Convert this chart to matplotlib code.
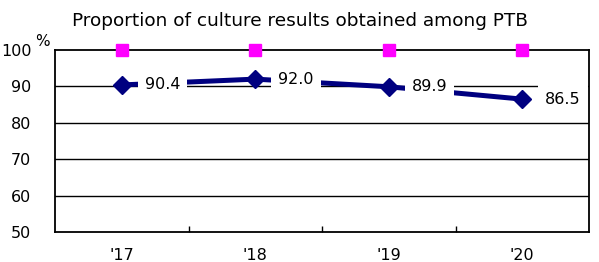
import matplotlib
matplotlib.use("Agg")
import matplotlib.pyplot as plt
import numpy as np

# data
years = ["'17", "'18", "'19", "'20"]
culture_rate = [90.4, 92.0, 89.9, 86.5]
reference = [100, 100, 100, 100]
y_ticks = [50, 60, 70, 80, 90, 100]

plt.rcParams['font.family'] = ['Verdana', 'DejaVu Sans']

fig = plt.figure(figsize=(5.99, 2.62), dpi=100)
ax = fig.add_axes([55 / 599, 30 / 262, 534 / 599, 182 / 262])

x = np.arange(len(years)) + 0.5

ax.set_xlim(0, len(years))
ax.set_ylim(50, 100)
ax.set_yticks(y_ticks)
ax.set_yticklabels([str(v) for v in y_ticks], fontsize=11.5)
ax.set_xticks(x)
ax.set_xticklabels(years, fontsize=11.5)
ax.set_xticks(np.arange(1, len(years)), minor=True)
ax.tick_params(axis='x', which='major', length=0, pad=11.5)
ax.tick_params(axis='x', which='minor', length=4, direction='in', width=1)
ax.tick_params(axis='y', length=0, pad=17)

for v in y_ticks[1:-1]:
    ax.axhline(v, color='black', lw=1, zorder=1)
for side in ['left', 'right', 'bottom', 'top']:
    ax.spines[side].set_color('black')
    ax.spines[side].set_linewidth(1.3)

ax.plot(x, culture_rate, color='#000080', lw=3.6, marker='D', markersize=9,
        zorder=3, clip_on=False)
ax.plot(x, reference, linestyle='none', marker='s', markersize=8,
        color='#ff00ff', zorder=4, clip_on=False)

for xi, v in zip(x, culture_rate):
    ax.annotate(f"{v:.1f}", (xi, v), xytext=(16.5, 0), textcoords='offset points',
                ha='left', va='center', fontsize=11.5, zorder=5,
                bbox=dict(facecolor='white', edgecolor='none', pad=5))

fig.text(300 / 599, 1 - 21 / 262, "Proportion of culture results obtained among PTB",
         ha='center', va='center', fontsize=13.3)
fig.text(42 / 599, 1 - 41 / 262, "%", ha='center', va='center', fontsize=11)

fig.savefig("out.png", dpi=100)
